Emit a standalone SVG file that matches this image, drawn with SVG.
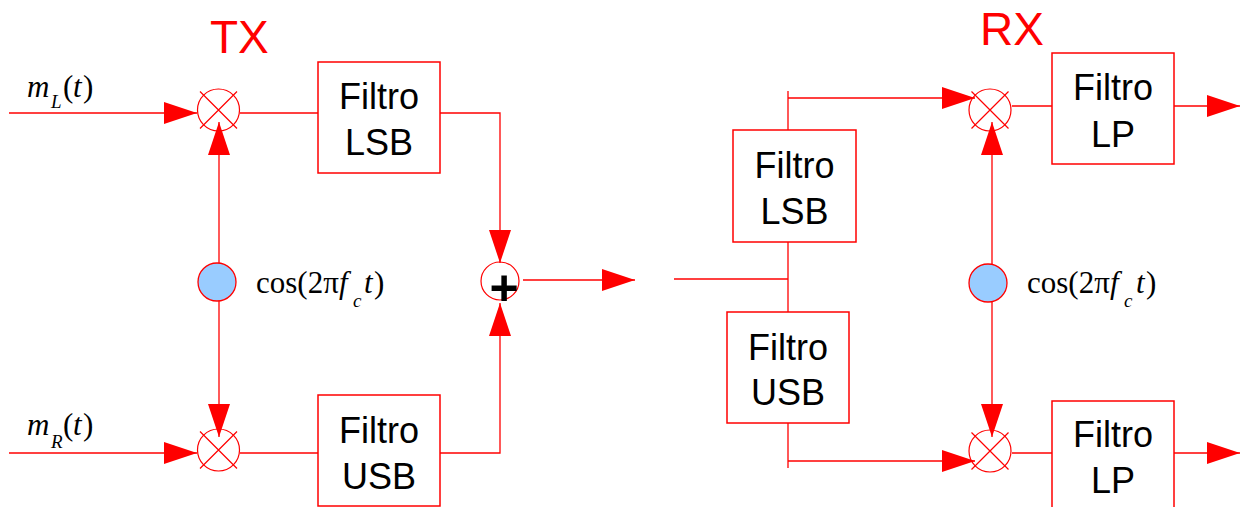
<svg xmlns="http://www.w3.org/2000/svg" width="1245" height="507" viewBox="0 0 1245 507">
  <style>
    .wire { fill: none; stroke: #ff0000; stroke-width: 1.3; }
    .box { fill: #ffffff; stroke: #ff0000; stroke-width: 1.5; }
    .mix { fill: none; stroke: #ff0000; stroke-width: 1.2; }
    .osc { fill: #99ccff; stroke: #ff0000; stroke-width: 1.3; }
    .lbl { font-family: "Liberation Sans", Arial, sans-serif; font-size: 36px; fill: #000000; text-anchor: middle; }
    .title { font-family: "Liberation Sans", Arial, sans-serif; font-size: 46px; fill: #ff0000; }
    .math { font-family: "Liberation Serif", "Times New Roman", serif; font-size: 31px; fill: #000000; }
    .it { font-style: italic; }
    .sub { font-size: 19px; font-style: italic; }
  </style>
  <defs>
    <marker id="arrow" viewBox="0 0 33 22" refX="33" refY="11" markerWidth="33" markerHeight="22" markerUnits="userSpaceOnUse" orient="auto">
      <path d="M0,0 L33,11 L0,22 Z" fill="#ff0000"/>
    </marker>
    <g id="mixer">
      <circle cx="0" cy="0" r="21" class="mix"/>
      <path d="M-18.5,-18.5 L18.5,18.5 M-18.5,18.5 L18.5,-18.5" class="mix"/>
    </g>
  </defs>

  <!-- titles -->
  <text class="title" x="210" y="53">TX</text>
  <text class="title" x="980" y="45">RX</text>

  <!-- connectors -->
  <g id="connectors">
    <!-- transmitter -->
    <path class="wire" d="M9,113 H197" marker-end="url(#arrow)"/>
    <path class="wire" d="M9,453 H197" marker-end="url(#arrow)"/>
    <path class="wire" d="M240,113 H318"/>
    <path class="wire" d="M240,453 H318"/>
    <path class="wire" d="M440,113 H500 V263" marker-end="url(#arrow)"/>
    <path class="wire" d="M440,453 H500 V303" marker-end="url(#arrow)"/>
    <path class="wire" d="M523,280 H635" marker-end="url(#arrow)"/>
    <path class="wire" d="M219,263 V122" marker-end="url(#arrow)"/>
    <path class="wire" d="M219,301 V437" marker-end="url(#arrow)"/>
    <!-- receiver -->
    <path class="wire" d="M674,279 H788"/>
    <path class="wire" d="M788,91 V130 M788,242 V312 M788,423 V468"/>
    <path class="wire" d="M788,98 H975" marker-end="url(#arrow)"/>
    <path class="wire" d="M788,461 H975" marker-end="url(#arrow)"/>
    <path class="wire" d="M1012,106 H1052"/>
    <path class="wire" d="M1012,453 H1052"/>
    <path class="wire" d="M1174,106 H1240" marker-end="url(#arrow)"/>
    <path class="wire" d="M1174,453 H1240" marker-end="url(#arrow)"/>
    <path class="wire" d="M992,264 V122" marker-end="url(#arrow)"/>
    <path class="wire" d="M992,302 V437" marker-end="url(#arrow)"/>
  </g>

  <!-- transmitter nodes -->
  <g id="tx-mixer-top"><use href="#mixer" x="218.5" y="110"/></g>
  <g id="tx-mixer-bottom"><use href="#mixer" x="218.5" y="450"/></g>
  <g id="tx-osc"><circle class="osc" cx="217" cy="282" r="19"/></g>
  <g id="tx-lsb">
    <rect class="box" x="318" y="62" width="122" height="111"/>
    <text class="lbl" x="379" y="109">Filtro</text>
    <text class="lbl" x="379" y="155">LSB</text>
  </g>
  <g id="tx-usb">
    <rect class="box" x="318" y="395" width="122" height="111"/>
    <text class="lbl" x="379" y="443">Filtro</text>
    <text class="lbl" x="379" y="489">USB</text>
  </g>
  <g id="tx-adder">
    <circle cx="500" cy="281" r="19" class="mix"/>
    <text x="504" y="305" font-family="'Liberation Sans', Arial, sans-serif" font-size="50" font-weight="bold" text-anchor="middle" fill="#000000">+</text>
  </g>

  <!-- receiver nodes -->
  <g id="rx-lsb">
    <rect class="box" x="733" y="130" width="123" height="112"/>
    <text class="lbl" x="794.5" y="178">Filtro</text>
    <text class="lbl" x="794.5" y="224">LSB</text>
  </g>
  <g id="rx-usb">
    <rect class="box" x="727" y="312" width="122" height="111"/>
    <text class="lbl" x="788" y="360">Filtro</text>
    <text class="lbl" x="788" y="405">USB</text>
  </g>
  <g id="rx-mixer-top"><use href="#mixer" x="990" y="110"/></g>
  <g id="rx-mixer-bottom"><use href="#mixer" x="990" y="451"/></g>
  <g id="rx-osc"><circle class="osc" cx="988" cy="283" r="19"/></g>
  <g id="rx-lp-top">
    <rect class="box" x="1052" y="53" width="122" height="111"/>
    <text class="lbl" x="1113" y="100">Filtro</text>
    <text class="lbl" x="1113" y="147">LP</text>
  </g>
  <g id="rx-lp-bottom">
    <rect class="box" x="1052" y="401" width="122" height="112"/>
    <text class="lbl" x="1113" y="447">Filtro</text>
    <text class="lbl" x="1113" y="493">LP</text>
  </g>

  <!-- signal labels -->
  <g id="label-mL">
    <text class="math"><tspan class="it" x="27" y="97">m</tspan><tspan class="sub" x="51" y="108">L</tspan><tspan x="63" y="97">(</tspan><tspan class="it" x="73" y="97">t</tspan><tspan x="83" y="97">)</tspan></text>
  </g>
  <g id="label-mR">
    <text class="math"><tspan class="it" x="27" y="435">m</tspan><tspan class="sub" x="51" y="448">R</tspan><tspan x="63" y="435">(</tspan><tspan class="it" x="73" y="435">t</tspan><tspan x="83" y="435">)</tspan></text>
  </g>
  <g id="label-osc-tx">
    <text class="math"><tspan x="256" y="293">cos(2π</tspan><tspan class="it" x="339" y="293">f</tspan><tspan class="sub" x="353" y="307">c</tspan><tspan class="it" x="364" y="293">t</tspan><tspan x="374" y="293">)</tspan></text>
  </g>
  <g id="label-osc-rx">
    <text class="math"><tspan x="1027" y="293">cos(2π</tspan><tspan class="it" x="1110" y="293">f</tspan><tspan class="sub" x="1124" y="307">c</tspan><tspan class="it" x="1136" y="293">t</tspan><tspan x="1146" y="293">)</tspan></text>
  </g>
</svg>
